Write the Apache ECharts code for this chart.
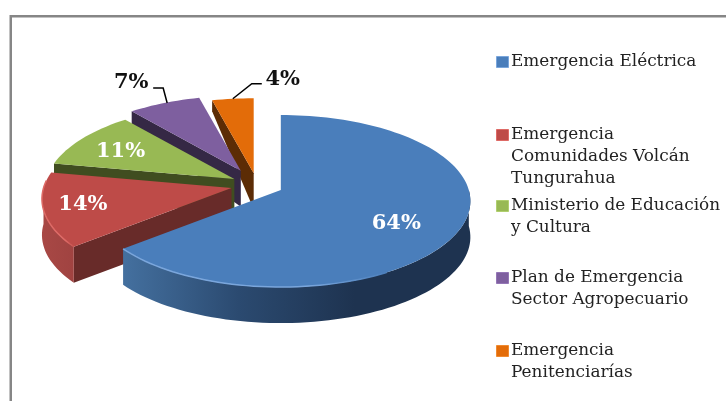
<!DOCTYPE html>
<html>
<head>
<meta charset="utf-8">
<style>html,body{margin:0;padding:0;background:#fff;overflow:hidden}#chart{width:726px;height:401px}</style>
<script src="https://cdn.jsdelivr.net/npm/echarts@6/dist/echarts.min.js"></script>
</head>
<body>
<div id="chart"></div>
<script>
// Shares of the emergency budget, clockwise from twelve o'clock.
const categories = [
  'Emergencia Eléctrica',
  'Emergencia Comunidades Volcán Tungurahua',
  'Ministerio de Educación y Cultura',
  'Plan de Emergencia Sector Agropecuario',
  'Emergencia Penitenciarías'
];
const shares = [64, 14, 11, 7, 4];
const legendLines = [
  ['Emergencia Eléctrica'],
  ['Emergencia', 'Comunidades Volcán', 'Tungurahua'],
  ['Ministerio de Educación', 'y Cultura'],
  ['Plan de Emergencia', 'Sector Agropecuario'],
  ['Emergencia', 'Penitenciarías']
];

// Look of each slice.
const palette = [
  {top: '#4a7ebb', rim: '#7aa6dc', wall: '#2b4a70', outer: ['#44709f', '#2b4a70', '#1e3350', '#1e3350']},
  {top: '#be4b48', rim: '#de6a66', wall: '#682b29', outer: ['#a84845', '#a04341']},
  {top: '#98b954', rim: '#b0cf6e', wall: '#404d20', outer: ['#6a7f38', '#6a7f38']},
  {top: '#7e5f9f', rim: '#9476b6', wall: '#352845', outer: ['#4a3a60', '#4a3a60']},
  {top: '#e36c09', rim: '#f08a30', wall: '#5c2c05', outer: ['#8a4208', '#8a4208']}
];
const legendTop = [62, 135, 206, 278, 351];
const LINE_H = 22;
const FONT = '"DejaVu Serif", serif';

// Tilted-disc geometry: a perspective projection of the pie's ground plane.
const PIE = {cx: 257, cy: 185, rx: 188, ry: 84.6, persp: 0.128, depth: 36, farDepthLoss: 0.72};
const EXPLODE = [0.14, 0.14, 0.14, 0.19, 0.14];
const LABEL_RADIUS = [0.66, 0.79, 0.73];
const LABEL_SHIFT = [[-1, 9], [-1, 0], [-1, 3]];
const OUTSIDE_LABEL = {
  3: {start: [3, 0], elbow: [[-1, -15], [-11, -15]], text: [-33, -20]},
  4: {start: [0, 0], elbow: [[19, -15], [29, -15]], text: [50, -19]}
};
const total = shares.reduce((a, b) => a + b, 0);

function project(u, v, org) {
  const s = 1 / (1 + PIE.persp * v);
  return [org[0] + PIE.rx * u * s, org[1] - PIE.ry * v * s, v];
}
function rimPoint(deg, org, r) {
  const a = deg * Math.PI / 180;
  return project((r || 1) * Math.sin(a), (r || 1) * Math.cos(a), org);
}
function arc(a0, a1, org) {
  const pts = [];
  const n = Math.max(2, Math.ceil((a1 - a0) / 2));
  for (let i = 0; i <= n; i++) pts.push(rimPoint(a0 + (a1 - a0) * i / n, org));
  return pts;
}
// The lower edge of the disc; walls foreshorten toward the far side.
const down = p => [p[0], p[1] + PIE.depth * (1 - PIE.farDepthLoss * Math.max(0, p[2]))];
const xy = p => [p[0], p[1]];

function renderSlice(params, api) {
  const i = params.dataIndex;
  const value = api.value(0);
  const before = shares.slice(0, i).reduce((a, b) => a + b, 0);
  const a0 = before / total * 360, a1 = (before + value) / total * 360;
  const mid = (a0 + a1) / 2;
  const m = mid * Math.PI / 180;
  // Pull the slice out along its bisector.
  const org = [
    PIE.cx + EXPLODE[i] * PIE.rx * Math.sin(m),
    PIE.cy - EXPLODE[i] * PIE.ry * Math.cos(m)
  ];
  const apex = [org[0], org[1], 0];
  const style = palette[i];
  const z = 10 * (categories.length - i);
  const children = [];
  const poly = (points, fill, extra) => children.push(Object.assign({
    type: 'polygon', z2: z, shape: {points: points.map(xy)}, style: {fill: fill}
  }, extra || {}));

  // Radial cut faces that turn toward the viewer.
  [a0, a1].forEach((a, idx) => {
    const sinA = Math.sin(a * Math.PI / 180);
    if ((idx === 0 && sinA < -1e-6) || (idx === 1 && sinA > 1e-6)) {
      const p = rimPoint(a, org);
      poly([apex, p, down(p), down(apex)], style.wall);
    }
  });

  // Outer wall, only the part of the rim on the near side.
  const w0 = Math.max(a0, 90), w1 = Math.min(a1, 270);
  if (w1 > w0) {
    const rim = arc(w0, w1, org);
    const stops = style.outer.map((c, k, arr) => ({offset: k / (arr.length - 1), color: c}));
    poly(rim.concat(rim.slice().reverse().map(down)), {
      type: 'linear', x: 0, y: 0, x2: 1, y2: 0, colorStops: stops
    });
  }

  // Top face with a lit edge fading along the near rim.
  poly([apex].concat(arc(a0, a1, org)), style.top, {z2: z + 1});
  const lit0 = Math.max(a0, 150), lit1 = Math.min(a1, 275);
  if (lit1 > lit0) {
    children.push({
      type: 'polyline', z2: z + 2,
      shape: {points: arc(lit0, lit1, org).map(xy)},
      style: {
        fill: null, lineWidth: 1.5,
        stroke: {type: 'linear', x: 0, y: 0, x2: 1, y2: 0, colorStops: [
          {offset: 0, color: style.rim}, {offset: 0.7, color: style.rim}, {offset: 1, color: style.top}
        ]}
      }
    });
  }

  // Percentage label, inside the slice or on a leader line.
  const text = Math.round(value / total * 100) + '%';
  const out = OUTSIDE_LABEL[i];
  const labelFont = 'bold 21px ' + FONT;
  if (out) {
    const anchor = xy(rimPoint(mid, org));
    const add = o => [anchor[0] + o[0], anchor[1] + o[1]];
    children.push({
      type: 'polyline', z2: 100,
      shape: {points: [add(out.start)].concat(out.elbow.map(add))},
      style: {fill: null, stroke: '#000', lineWidth: 1.5}
    });
    const pos = add(out.text);
    children.push({
      type: 'text', z2: 100, x: pos[0], y: pos[1],
      style: {text: text, font: labelFont, fill: '#111', align: 'center', verticalAlign: 'middle'}
    });
  } else {
    const pos = rimPoint(mid, org, LABEL_RADIUS[i]);
    children.push({
      type: 'text', z2: 100, x: pos[0] + LABEL_SHIFT[i][0], y: pos[1] + LABEL_SHIFT[i][1],
      style: {text: text, font: labelFont, fill: '#fff', align: 'center', verticalAlign: 'middle',
        shadowColor: 'rgba(0,0,0,0.35)', shadowBlur: 2, shadowOffsetY: 1}
    });
  }
  return {type: 'group', children: children};
}

// Legend blocks: a swatch beside the first line of each wrapped name.
const legendGraphics = [];
legendLines.forEach((lines, i) => {
  legendGraphics.push({
    type: 'rect', left: 496, top: legendTop[i] - 6, z: 5,
    shape: {width: 12, height: 11},
    style: {fill: palette[i].top, stroke: palette[i].rim, lineWidth: 1}
  });
  lines.forEach((line, k) => legendGraphics.push({
    type: 'text', left: 511, top: legendTop[i] + k * LINE_H - 9, z: 5,
    style: {text: line, font: '16.9px ' + FONT, fill: '#222'}
  }));
});

const chart = echarts.init(document.getElementById('chart'), null, {renderer: 'canvas'});
chart.setOption({
  animation: false,
  backgroundColor: '#fff',
  graphic: [{
    type: 'rect', left: 9.5, top: 15, z: 0, silent: true,
    shape: {width: 760, height: 420},
    style: {fill: '#fff', stroke: '#868686', lineWidth: 2.5}
  }].concat(legendGraphics),
  series: [{
    type: 'custom',
    coordinateSystem: 'none',
    renderItem: renderSlice,
    data: shares.map((v, i) => ({name: categories[i], value: [v]}))
  }]
});
</script>
</body>
</html>
